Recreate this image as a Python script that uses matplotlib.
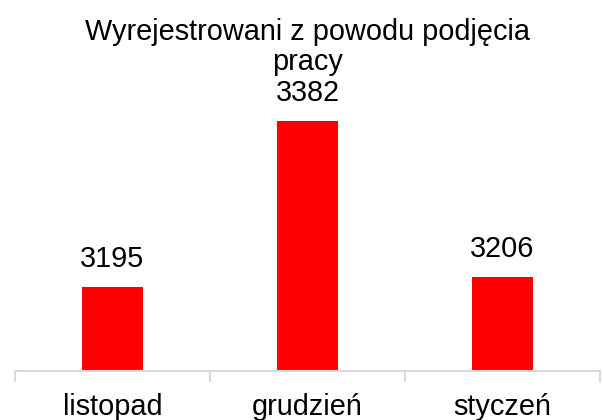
import matplotlib.pyplot as plt

plt.rcParams['font.family'] = ['Liberation Sans', 'DejaVu Sans']

months = ['listopad', 'grudzień', 'styczeń']
values = [3195, 3382, 3206]
title = 'Wyrejestrowani z powodu podjęcia\npracy'

fig = plt.figure(figsize=(6.03, 4.2), dpi=100)
ax = fig.add_axes([15 / 603, 49 / 420, 585 / 603, 266 / 420])

pos = range(len(months))
ax.bar(pos, values, width=0.31, color='#ff0000', bottom=0)
ax.set_ylim(3100, 3400)
ax.set_xlim(-0.5, len(months) - 0.5)

for x, v in zip(pos, values):
    ax.annotate(str(v), (x, v), xytext=(0, 10), textcoords='offset points',
                ha='center', va='bottom', fontsize=20.8)

for s in ['top', 'right', 'left']:
    ax.spines[s].set_visible(False)
ax.spines['bottom'].set_color('#d9d9d9')
ax.spines['bottom'].set_linewidth(1.5)
ax.set_yticks([])
ax.set_xticks(list(pos))
ax.set_xticklabels(months, fontsize=20.8)
ax.tick_params(axis='x', which='major', length=0, pad=16)
ax.set_xticks([p - 0.5 for p in range(len(months) + 1)], minor=True)
ax.tick_params(axis='x', which='minor', length=8, width=1.5, color='#d9d9d9')

fig.text(0.51, 1 - 47 / 420, title, ha='center', va='center',
         fontsize=20.8, linespacing=1.05)

fig.savefig('out.png', dpi=100)
